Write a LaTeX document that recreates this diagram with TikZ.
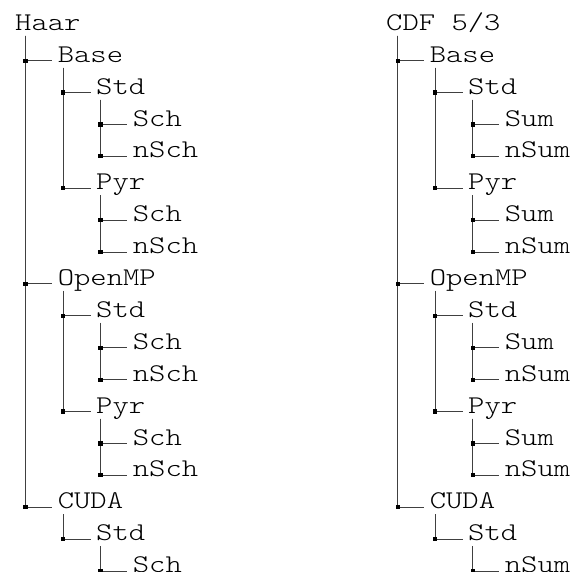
\documentclass[tikz,border=0pt]{standalone}
\usepackage{fontspec}
\newfontfamily\treefont{Latin Modern Mono Light}[FakeStretch=1.22]
\usetikzlibrary{calc}

% A tree item: name, x of text, row number, text
\newcommand\treeitem[4]{%
  \node[leaf] (#1) at (#2, {30.3+31.9*#3}) {#4};}
% A branch from a parent down and across to a child; #3 = stem offset
\newcommand\branchto[3]{%
  \draw[branch] ([xshift=#3,yshift=-5.4pt]#1.base west)
    |- node[pos=0.5, junction] {} ([xshift=-5.5pt,yshift=1.6pt]#2.base west);}

\begin{document}
\begin{tikzpicture}[x=1pt, y=-1pt,
  leaf/.style={anchor=base west, inner sep=0pt, text=black,
    font=\treefont\fontsize{25.5}{30}\selectfont},
  branch/.style={draw=black!75, line width=0.9pt},
  junction/.style={rectangle, fill=black, draw=none, inner sep=0pt,
    minimum size=4.2pt}]
\useasboundingbox (0,0) rectangle (573,571);
\clip (0,0) rectangle (573,571);

% ---------- Haar ----------
\treeitem{h}{15}{0}{Haar}
\treeitem{hB}{57.6}{1}{Base}
\treeitem{hBS}{96}{2}{Std}
\treeitem{hBSa}{132.7}{3}{Sch}
\treeitem{hBSb}{132.7}{4}{nSch}
\treeitem{hBP}{96}{5}{Pyr}
\treeitem{hBPa}{132.7}{6}{Sch}
\treeitem{hBPb}{132.7}{7}{nSch}
\treeitem{hO}{57.6}{8}{OpenMP}
\treeitem{hOS}{96}{9}{Std}
\treeitem{hOSa}{132.7}{10}{Sch}
\treeitem{hOSb}{132.7}{11}{nSch}
\treeitem{hOP}{96}{12}{Pyr}
\treeitem{hOPa}{132.7}{13}{Sch}
\treeitem{hOPb}{132.7}{14}{nSch}
\treeitem{hC}{57.6}{15}{CUDA}
\treeitem{hCS}{96}{16}{Std}
\treeitem{hCSa}{132.7}{17}{Sch}

% later siblings first, so each junction square stays on top
\branchto{h}{hC}{10.5pt}
\branchto{h}{hO}{10.5pt}
\branchto{h}{hB}{10.5pt}
\branchto{hB}{hBP}{5.7pt}
\branchto{hB}{hBS}{5.7pt}
\branchto{hBS}{hBSb}{4.5pt}
\branchto{hBS}{hBSa}{4.5pt}
\branchto{hBP}{hBPb}{4.5pt}
\branchto{hBP}{hBPa}{4.5pt}
\branchto{hO}{hOP}{5.7pt}
\branchto{hO}{hOS}{5.7pt}
\branchto{hOS}{hOSb}{4.5pt}
\branchto{hOS}{hOSa}{4.5pt}
\branchto{hOP}{hOPb}{4.5pt}
\branchto{hOP}{hOPa}{4.5pt}
\branchto{hC}{hCS}{5.7pt}
\branchto{hCS}{hCSa}{4.5pt}

% ---------- CDF 5/3 ----------
\treeitem{c}{386}{0}{CDF 5/3}
\treeitem{cB}{429.6}{1}{Base}
\treeitem{cBS}{468}{2}{Std}
\treeitem{cBSa}{504.7}{3}{Sum}
\treeitem{cBSb}{504.7}{4}{nSum}
\treeitem{cBP}{468}{5}{Pyr}
\treeitem{cBPa}{504.7}{6}{Sum}
\treeitem{cBPb}{504.7}{7}{nSum}
\treeitem{cO}{429.6}{8}{OpenMP}
\treeitem{cOS}{468}{9}{Std}
\treeitem{cOSa}{504.7}{10}{Sum}
\treeitem{cOSb}{504.7}{11}{nSum}
\treeitem{cOP}{468}{12}{Pyr}
\treeitem{cOPa}{504.7}{13}{Sum}
\treeitem{cOPb}{504.7}{14}{nSum}
\treeitem{cC}{429.6}{15}{CUDA}
\treeitem{cCS}{468}{16}{Std}
\treeitem{cCSa}{504.7}{17}{nSum}

\branchto{c}{cC}{11.7pt}
\branchto{c}{cO}{11.7pt}
\branchto{c}{cB}{11.7pt}
\branchto{cB}{cBP}{5.7pt}
\branchto{cB}{cBS}{5.7pt}
\branchto{cBS}{cBSb}{4.6pt}
\branchto{cBS}{cBSa}{4.6pt}
\branchto{cBP}{cBPb}{4.6pt}
\branchto{cBP}{cBPa}{4.6pt}
\branchto{cO}{cOP}{5.7pt}
\branchto{cO}{cOS}{5.7pt}
\branchto{cOS}{cOSb}{4.6pt}
\branchto{cOS}{cOSa}{4.6pt}
\branchto{cOP}{cOPb}{4.6pt}
\branchto{cOP}{cOPa}{4.6pt}
\branchto{cC}{cCS}{5.7pt}
\branchto{cCS}{cCSa}{4.6pt}
\end{tikzpicture}
\end{document}
